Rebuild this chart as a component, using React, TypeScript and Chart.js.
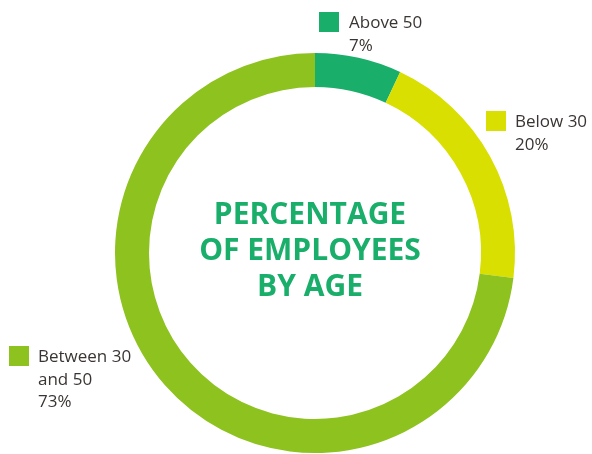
import React, { useEffect, useRef } from "react";
import { Chart, registerables } from "chart.js";

Chart.register(...registerables);

const categories = ["Above 50", "Below 30", "Between 30 and 50"];
const values = [7, 20, 73];
const colors = ["#1aae6b", "#d9df00", "#8dc21f"];
const titleLines = ["PERCENTAGE", "OF EMPLOYEES", "BY AGE"];

type LegendSpec = { idx: number; lines: string[]; sq: [number, number]; tx: number; top: number };
const legendSpecs: LegendSpec[] = [
  { idx: 0, lines: ["Above 50", "7%"], sq: [319, 12], tx: 349, top: 12 },
  { idx: 1, lines: ["Below 30", "20%"], sq: [486, 111], tx: 515, top: 111 },
  { idx: 2, lines: ["Between 30", "and 50", "73%"], sq: [9, 346], tx: 38, top: 346 },
];

export default function App() {
  const ref = useRef<HTMLCanvasElement>(null);
  useEffect(() => {
    document.body.style.margin = "0";
    const chart = new Chart(ref.current!, {
      type: "doughnut",
      data: {
        labels: categories,
        datasets: [{ data: values, backgroundColor: colors, borderWidth: 0 }],
      },
      options: {
        animation: false,
        responsive: false,
        cutout: "83%",
        layout: { padding: { left: 115, right: 77, top: 53, bottom: 1 } },
        plugins: { legend: { display: false }, tooltip: { enabled: false } },
      },
    });
    return () => chart.destroy();
  }, []);
  const font = "'Open Sans', 'Noto Sans', sans-serif";
  return (
    <div style={{ position: "relative", width: 592, height: 454, background: "#fff", overflow: "hidden" }}>
      <canvas ref={ref} width={592} height={454} style={{ position: "absolute", left: 0, top: 0 }} />
      <div
        style={{
          position: "absolute",
          left: 160,
          width: 300,
          top: 195,
          textAlign: "center",
          fontFamily: font,
          fontWeight: 700,
          fontSize: 30,
          lineHeight: "36px",
          color: "#1aae6b",
        }}
      >
        {titleLines.map((l, i) => (
          <div key={i}>{l}</div>
        ))}
      </div>
      {legendSpecs.map((s) => (
        <React.Fragment key={s.idx}>
          <div
            style={{
              position: "absolute",
              left: s.sq[0],
              top: s.sq[1],
              width: 20,
              height: 20,
              background: colors[s.idx],
            }}
          />
          <div
            style={{
              position: "absolute",
              left: s.tx,
              top: s.top - 1,
              fontFamily: font,
              fontSize: 17,
              lineHeight: "22.5px",
              color: "#3a3533",
              whiteSpace: "nowrap",
            }}
          >
            {s.lines.map((l, i) => (
              <div key={i}>{l}</div>
            ))}
          </div>
        </React.Fragment>
      ))}
    </div>
  );
}
